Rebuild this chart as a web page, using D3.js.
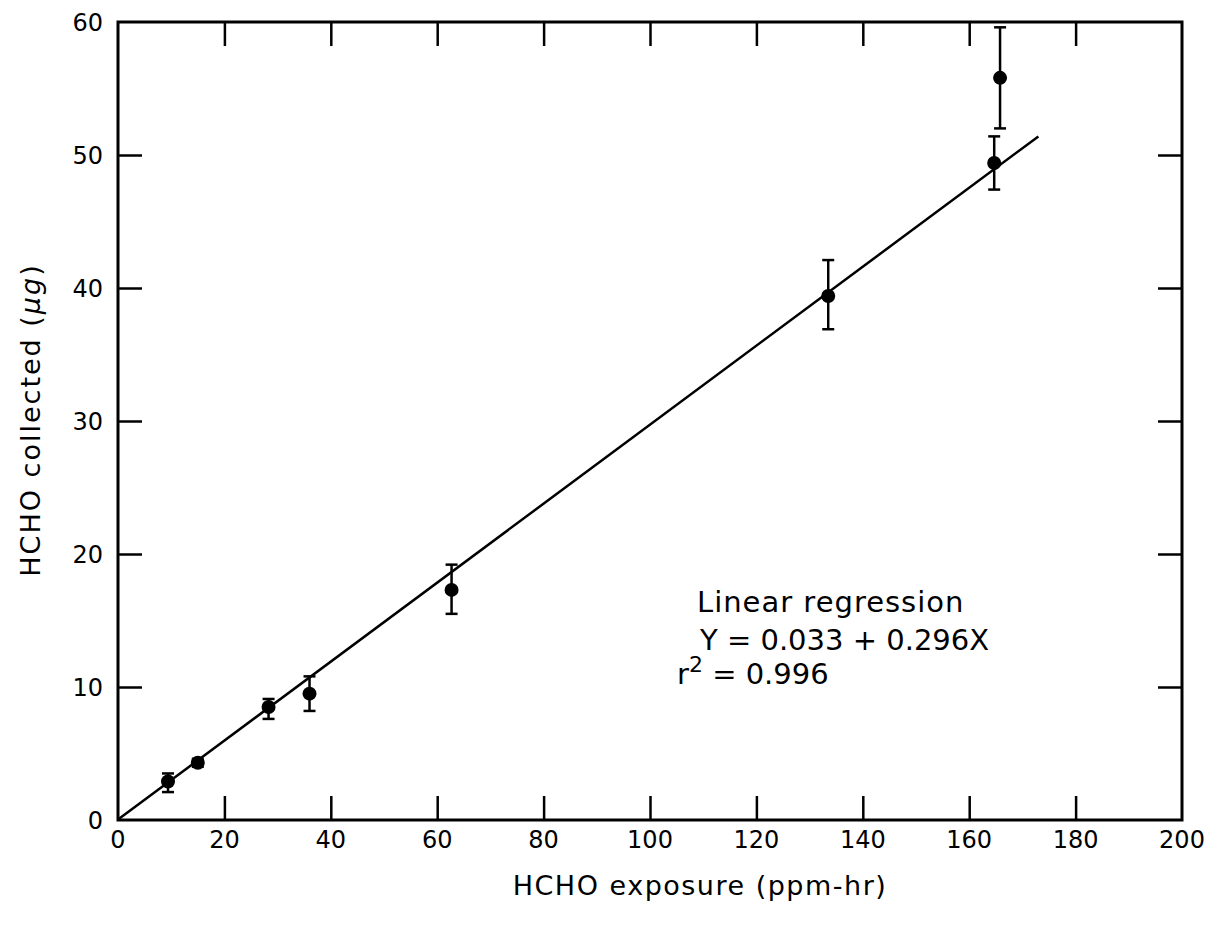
<!DOCTYPE html>
<html>
<head>
<meta charset="utf-8">
<script src="https://cdn.jsdelivr.net/npm/d3@7"></script>
<style>
html,body{margin:0;padding:0;background:#fff;}
svg text{font-family:"DejaVu Sans",sans-serif;fill:#000;}
</style>
</head>
<body>
<svg id="chart" width="1213" height="941"></svg>
<script>
// Data
const exposure  = [9.4, 15.0, 28.3, 36.0, 62.7, 133.5, 164.7, 165.8];
const collected = [2.9, 4.3, 8.5, 9.5, 17.3, 39.4, 49.4, 55.8];
const errLow    = [2.1, 4.0, 7.6, 8.2, 15.5, 36.9, 47.4, 52.0];
const errHigh   = [3.5, 4.6, 9.1, 10.8, 19.2, 42.1, 51.4, 59.6];
const fitX      = [0, 173];
const fitY      = [0.033, 51.4];
const xTicks    = [0, 20, 40, 60, 80, 100, 120, 140, 160, 180, 200];
const yTicks    = [0, 10, 20, 30, 40, 50, 60];

const svg = d3.select("#chart");
const L = 118, R = 1182, T = 22, B = 820;
const x = d3.scaleLinear().domain([0, 200]).range([L, R]);
const y = d3.scaleLinear().domain([0, 60]).range([B, T]);
const tickLen = 24;

// frame
svg.append("rect").attr("x", L).attr("y", T).attr("width", R - L).attr("height", B - T)
  .attr("fill", "none").attr("stroke", "#000").attr("stroke-width", 3);

// inward ticks using axes
const inner = xTicks.slice(1, -1);
const innerY = yTicks.slice(1, -1);
function styleAxis(g){
  g.select(".domain").remove();
  g.selectAll(".tick line").attr("stroke", "#000").attr("stroke-width", 2.5);
}
svg.append("g").attr("transform", `translate(0,${B})`)
  .call(d3.axisBottom(x).tickValues(inner).tickSizeInner(-tickLen).tickFormat(""))
  .call(styleAxis);
svg.append("g").attr("transform", `translate(0,${T})`)
  .call(d3.axisTop(x).tickValues(inner).tickSizeInner(-tickLen).tickFormat(""))
  .call(styleAxis);
svg.append("g").attr("transform", `translate(${L},0)`)
  .call(d3.axisLeft(y).tickValues(innerY).tickSizeInner(-tickLen).tickFormat(""))
  .call(styleAxis);
svg.append("g").attr("transform", `translate(${R},0)`)
  .call(d3.axisRight(y).tickValues(innerY).tickSizeInner(-tickLen).tickFormat(""))
  .call(styleAxis);

// tick labels
svg.append("g").selectAll("text").data(xTicks).join("text")
  .attr("x", d => x(d)).attr("y", B + 28)
  .attr("text-anchor", "middle").attr("font-size", 24)
  .text(d => d);
svg.append("g").selectAll("text").data(yTicks).join("text")
  .attr("x", L - 15).attr("y", d => y(d) + 9)
  .attr("text-anchor", "end").attr("font-size", 24)
  .text(d => d);

// regression line
const line = d3.line().x(d => x(d[0])).y(d => y(d[1]));
svg.append("path").datum(d3.zip(fitX, fitY)).attr("d", line)
  .attr("fill", "none").attr("stroke", "#000").attr("stroke-width", 2.5);

// error bars
const pts = exposure.map((e, i) => ({x: e, y: collected[i], lo: errLow[i], hi: errHigh[i]}));
const eb = svg.append("g").attr("stroke", "#000").attr("stroke-width", 2.5);
pts.forEach(p => {
  eb.append("line").attr("x1", x(p.x)).attr("x2", x(p.x)).attr("y1", y(p.lo)).attr("y2", y(p.hi));
  eb.append("line").attr("x1", x(p.x) - 6).attr("x2", x(p.x) + 6).attr("y1", y(p.lo)).attr("y2", y(p.lo));
  eb.append("line").attr("x1", x(p.x) - 6).attr("x2", x(p.x) + 6).attr("y1", y(p.hi)).attr("y2", y(p.hi));
});
svg.append("g").selectAll("circle").data(pts).join("circle")
  .attr("cx", d => x(d.x)).attr("cy", d => y(d.y)).attr("r", 7).attr("fill", "#000");

// annotation
const ann = svg.append("g").attr("font-size", 29);
ann.append("text").attr("x", 697).attr("y", 612).attr("letter-spacing", 1).text("Linear regression");
ann.append("text").attr("x", 700).attr("y", 650).text("Y = 0.033 + 0.296X");
const r2 = ann.append("text").attr("x", 677).attr("y", 684);
r2.append("tspan").text("r");
r2.append("tspan").attr("dy", -12).attr("font-size", 22).text("2");
r2.append("tspan").attr("dy", 12).text(" = 0.996");

// axis titles
svg.append("text").attr("x", 700).attr("y", 895).attr("text-anchor", "middle")
  .attr("font-size", 27).attr("letter-spacing", 1.5).text("HCHO exposure (ppm-hr)");
const yt = svg.append("text").attr("transform", "translate(40,420) rotate(-90)")
  .attr("text-anchor", "middle").attr("font-size", 27).attr("letter-spacing", 2);
yt.append("tspan").text("HCHO collected (");
yt.append("tspan").attr("font-style", "italic").text("μg");
yt.append("tspan").text(")");
</script>
</body>
</html>
